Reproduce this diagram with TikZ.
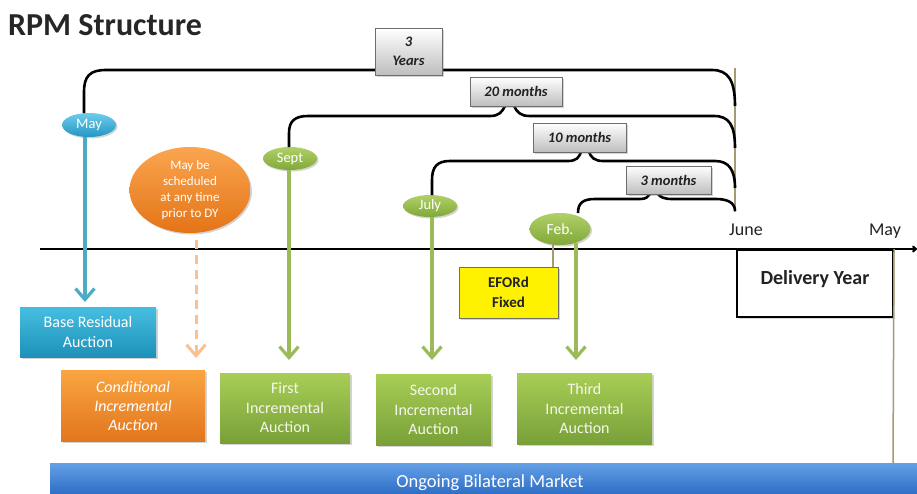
\documentclass[tikz,border=0pt]{standalone}
\usepackage{fontspec}
\setmainfont{Carlito}
\usetikzlibrary{arrows.meta,shapes.geometric,shadows,calc}
\definecolor{ink}{HTML}{222222}
\definecolor{arrowblue}{HTML}{4BACC6}
\definecolor{arrowgreen}{HTML}{9BBB59}
\definecolor{arroworange}{HTML}{FAC090}
\definecolor{tan}{HTML}{A39B72}
\tikzset{
  vtip/.tip={Straight Barb[length=11pt,width=19pt]},
  fsz/.style 2 args={font=\fontsize{#1}{#2}\selectfont},
  softshadow/.style={drop shadow={shadow xshift=1.5pt,shadow yshift=-1.5pt,opacity=0.35}},
  ellblue/.style={ellipse,inner sep=0pt,top color={rgb,255:red,110;green,205;blue,235},bottom color={rgb,255:red,35;green,150;blue,195},text=white,softshadow},
  ellgreen/.style={ellipse,inner sep=0pt,top color={rgb,255:red,176;green,208;blue,104},bottom color={rgb,255:red,128;green,168;blue,56},text=white,softshadow},
  ellorange/.style={ellipse,inner sep=0pt,top color={rgb,255:red,250;green,165;blue,80},bottom color={rgb,255:red,228;green,116;blue,22},text=white,softshadow,align=center},
  auction/.style={rectangle,inner sep=0pt,align=center,softshadow,text=white},
  bluebox/.style={auction,top color={rgb,255:red,70;green,190;blue,225},bottom color={rgb,255:red,30;green,145;blue,185}},
  orangebox/.style={auction,top color={rgb,255:red,250;green,165;blue,65},bottom color={rgb,255:red,226;green,118;blue,30}},
  greenbox/.style={auction,top color={rgb,255:red,168;green,206;blue,86},bottom color={rgb,255:red,120;green,160;blue,56},text={rgb,255:red,245;green,248;blue,235}},
  spanbox/.style={rectangle,inner sep=0pt,draw={rgb,255:red,110;green,110;blue,110},line width=1pt,top color=white,bottom color={rgb,255:red,190;green,190;blue,190},align=center,text=ink,softshadow,font=\fontsize{14.5}{19}\selectfont\bfseries\itshape},
  bracket/.style={draw=black,line width=2.6pt},
  arr/.style={line width=3.2pt,-vtip},
}
\begin{document}
\begin{tikzpicture}[x=1pt,y=-1pt]
\useasboundingbox (0,0) rectangle (917,493);

% title
\node[anchor=base west,inner sep=0pt,text={rgb,255:red,38;green,38;blue,38},font=\fontsize{32}{36}\selectfont\bfseries] (title) at (8,35) {RPM Structure};

% June vertical marker
\coordinate (jtop) at (735,68);
\coordinate (jbot) at (735,212);
\draw[tan,line width=1.5pt] (jtop) -- (jbot);

% timeline
\coordinate (tl0) at (40,249);
\coordinate (tl1) at (917,249);
\draw[line width=2pt,-{To[length=5pt,width=7pt]}] (tl0) -- (tl1);
\node[fsz={18}{20},text=ink,anchor=base] (june) at (746,235) {June};
\node[fsz={18}{20},text=ink,anchor=base] (mayr) at (885,235) {May};

% delivery year
\node[rectangle,draw=black,line width=2pt,fill=white,minimum width=156pt,minimum height=67pt,inner sep=0pt,drop shadow={shadow xshift=1.5pt,shadow yshift=-1.5pt,opacity=0.3}] (dy) at (815,283.5) {};
\node[font=\fontsize{20}{22}\selectfont\bfseries,text=ink] (dylab) at (815,279) {Delivery Year};
\coordinate (dyb) at (893,463);
\draw[tan,line width=1.5pt] (dy.north east) -- (dyb);

% ellipses
\node[ellblue,minimum width=54pt,minimum height=24pt,fsz={14.5}{16}] (may) at (89,125) {May};
\node[ellgreen,minimum width=54pt,minimum height=23pt,fsz={14.5}{16}] (sept) at (290,158.5) {Sept};
\node[ellgreen,minimum width=54pt,minimum height=22pt,fsz={14.5}{16}] (july) at (430,206) {July};
\node[ellgreen,minimum width=61pt,minimum height=32pt,fsz={15.5}{16}] (feb) at (560,229) {Feb.};
\node[ellorange,minimum width=121pt,minimum height=86pt,fsz={13}{16.3}] (cond) at (190,190) {May be\\scheduled\\at any time\\prior to DY};

% brackets (drawn before label boxes)
\draw[bracket] (84,113) -- (84,92) .. controls (84,76) and (90,70) .. (106,70) -- (712,70) .. controls (728,70) and (735,80) .. (735,106);
\draw[bracket] (289,147) -- (289,133) .. controls (289,121) and (295,116) .. (308,116) -- (490,116) .. controls (499,116) and (502,112) .. (505,106);
\draw[bracket] (514,106) .. controls (517,112) and (520,116) .. (530,116) -- (714,116) .. controls (729,116) and (735,125) .. (735,148);
\draw[bracket] (432,195) -- (432,180) .. controls (432,167) and (437,161) .. (450,161) -- (568,161) .. controls (577,161) and (579,157) .. (581,152);
\draw[bracket] (589,152) .. controls (591,157) and (594,161) .. (603,161) -- (715,161) .. controls (729,161) and (735,170) .. (735,188);
\draw[bracket] (578,213) .. controls (578,203) and (583,199) .. (595,199) -- (640,199) .. controls (646,199) and (648,197) .. (650,194);
\draw[bracket] (658,194) .. controls (660,197) and (664,199) .. (672,199) -- (716,199) .. controls (728,199) and (735,203) .. (735,211);

% span labels
\node[spanbox,minimum width=67pt,minimum height=47pt] (y3) at (408.5,51.5) {3\\Years};
\node[spanbox,minimum width=92pt,minimum height=29pt] (m20) at (516,91.5) {20 months};
\node[spanbox,minimum width=93pt,minimum height=29pt] (m10) at (579.5,137.5) {10 months};
\node[spanbox,minimum width=85pt,minimum height=28pt] (m3) at (668.5,180) {3 months};

% auction boxes
\node[bluebox,minimum width=136pt,minimum height=50pt,fsz={16}{20}] (bra) at (88,332) {Base Residual\\Auction};
\node[orangebox,minimum width=144pt,minimum height=71pt,font=\fontsize{16}{19}\selectfont\itshape] (cia) at (133,405.5) {Conditional\\Incremental\\Auction};
\node[greenbox,minimum width=130pt,minimum height=70pt,fsz={16}{19.5}] (fia) at (285,408) {First\\Incremental\\Auction};
\node[greenbox,minimum width=115pt,minimum height=71pt,fsz={16}{19.5}] (sia) at (433.5,409.5) {Second\\Incremental\\Auction};
\node[greenbox,minimum width=135pt,minimum height=71pt,fsz={16}{19.5}] (tia) at (584.5,408.5) {Third\\Incremental\\Auction};
\node[rectangle,draw={rgb,255:red,110;green,110;blue,110},line width=1pt,fill=yellow,minimum width=99pt,minimum height=51pt,inner sep=0pt,align=center,softshadow,font=\fontsize{15}{19.5}\selectfont\bfseries,text=ink] (eford) at (508.5,292.5) {EFORd\\Fixed};

% arrows
\draw[arrowblue,arr] (85,137) -- (85,302);
\draw[arroworange,line width=3pt,dash pattern=on 9pt off 6pt,-{Straight Barb[length=11pt,width=19pt]}] (196,240) -- (196,358);
\draw[arrowgreen,arr] (sept.south -| 289,0) -- (289,360);
\draw[arrowgreen,arr] (july.south -| 432,0) -- (432,360);
\draw[arrowgreen,arr] (576,243) -- (576,360);
\draw[tan,line width=1.5pt] (553,244) -- (eford.north -| 553,0);

% bilateral bar
\node[rectangle,inner sep=0pt,minimum width=867pt,minimum height=34pt,top color={rgb,255:red,100;green,160;blue,230},bottom color={rgb,255:red,40;green,105;blue,195}] (bar) at (483.5,480) {};
\node[text=white,fsz={18.5}{20},anchor=base] (barlab) at (490,487) {Ongoing Bilateral Market};
\end{tikzpicture}
\end{document}
